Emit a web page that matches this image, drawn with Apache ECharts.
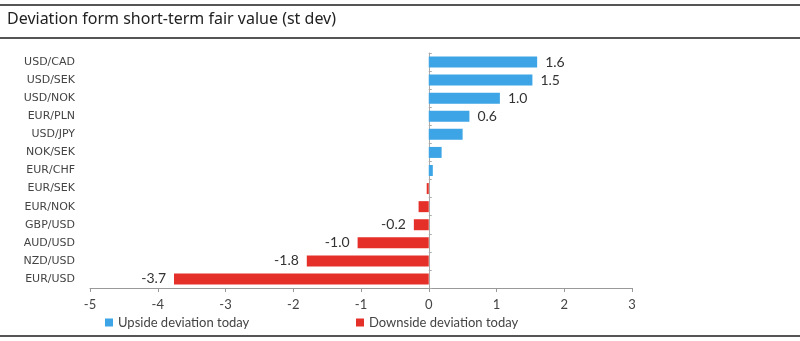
<!DOCTYPE html>
<html><head><meta charset="utf-8">
<script src="https://cdn.jsdelivr.net/npm/echarts@6/dist/echarts.min.js"></script>
<style>html,body{margin:0;padding:0;background:#fff}#c{width:800px;height:341px}</style>
</head><body><div id="c"></div>
<script>
const categories = ['USD/CAD','USD/SEK','USD/NOK','EUR/PLN','USD/JPY','NOK/SEK','EUR/CHF','EUR/SEK','EUR/NOK','GBP/USD','AUD/USD','NZD/USD','EUR/USD'];
const upside =   [1.6, 1.53, 1.05, 0.6, 0.5, 0.19, 0.06, null, null, null, null, null, null];
const downside = [null, null, null, null, null, null, null, -0.03, -0.15, -0.22, -1.05, -1.8, -3.76];
const upsideLabels =   ['1.6','1.5','1.0','0.6','','','','','','','','',''];
const downsideLabels = ['','','','','','','','','','-0.2','-1.0','-1.8','-3.7'];
const xTicks = [-5,-4,-3,-2,-1,0,1,2,3];

const cats = categories.slice().reverse();
const up = upside.slice().reverse();
const dn = downside.slice().reverse();
const upL = upsideLabels.slice().reverse();
const dnL = downsideLabels.slice().reverse();

const chart = echarts.init(document.getElementById('c'));
const font = 'Lato, "Open Sans", sans-serif';
chart.setOption({
  animation:false,
  textStyle:{fontFamily:font},
  graphic:[
    {type:'rect',shape:{x:0,y:4,width:800,height:2},style:{fill:'#555'}},
    {type:'rect',shape:{x:0,y:37,width:800,height:2},style:{fill:'#555'}},
    {type:'rect',shape:{x:0,y:335,width:800,height:2},style:{fill:'#555'}},
    {type:'text',left:7,top:11,style:{text:'Deviation form short-term fair value (st dev)',fill:'#222',font:'16px "Noto Sans", sans-serif'}}
  ],
  legend:[
    {data:['Upside deviation today'],left:100,top:311,itemWidth:8,itemHeight:8,icon:'rect',itemGap:4,textStyle:{fontSize:13,color:'#444',fontFamily:font}},
    {data:['Downside deviation today'],left:351,top:311,itemWidth:8,itemHeight:8,icon:'rect',itemGap:4,textStyle:{fontSize:13,color:'#444',fontFamily:font}}
  ],
  grid:{left:90,right:168,top:53,bottom:53,containLabel:false,outerBoundsMode:'none'},
  xAxis:{type:'value',min:-5,max:3,interval:1,
    axisLine:{show:true,onZero:false,lineStyle:{color:'#999'}},
    axisTick:{show:true,length:4,lineStyle:{color:'#999'}},
    axisLabel:{color:'#444',fontSize:13,margin:10,formatter:v=>xTicks.includes(v)?String(v):''},
    splitLine:{show:false}},
  yAxis:[
    {type:'category',data:cats,position:'left',
      axisLine:{show:false,onZero:false},axisTick:{show:false},
      axisLabel:{color:'#444',fontSize:11,margin:15,fontFamily:'"DejaVu Sans", sans-serif'}},
    {type:'category',data:cats,
      axisLine:{show:true,onZero:true,lineStyle:{color:'#aaa'}},
      axisTick:{show:true,length:3,lineStyle:{color:'#aaa'}},
      axisLabel:{show:false}}
  ],
  series:[
    {name:'Upside deviation today',type:'bar',stack:'s',barWidth:11,
      itemStyle:{color:'#3DA5E6'},
      data:up,
      label:{show:true,position:'right',distance:8,fontSize:14,color:'#333',
        formatter:p=>upL[p.dataIndex]}},
    {name:'Downside deviation today',type:'bar',stack:'s',barWidth:11,
      itemStyle:{color:'#E5302A'},
      data:dn,
      label:{show:true,position:'left',distance:8,fontSize:14,color:'#333',
        formatter:p=>dnL[p.dataIndex]}}
  ]
});
</script></body></html>
